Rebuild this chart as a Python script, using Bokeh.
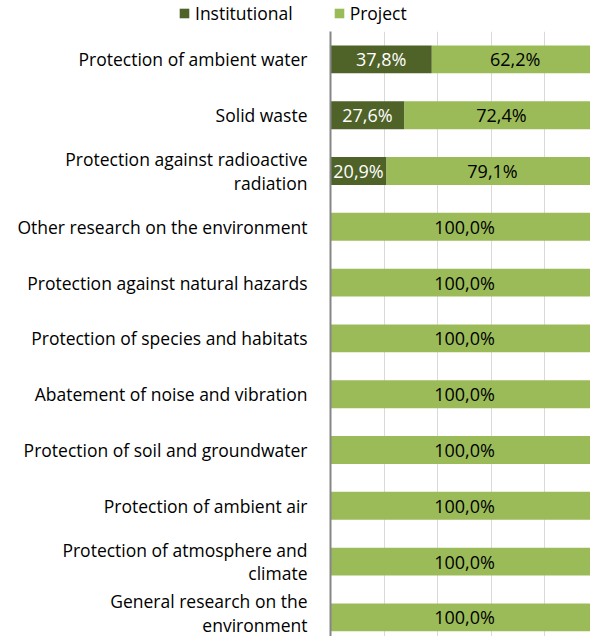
from bokeh.plotting import figure
from bokeh.layouts import column
from bokeh.models import ColumnDataSource, Range1d, FixedTicker, Legend, LegendItem, LabelSet
from bokeh.core.properties import value
from bokeh.embed import file_html
from bokeh.resources import INLINE

categories = [
    "Protection of ambient water",
    "Solid waste",
    "Protection against radioactive\nradiation",
    "Other research on the environment",
    "Protection against natural hazards",
    "Protection of species and habitats",
    "Abatement of noise and vibration",
    "Protection of soil and groundwater",
    "Protection of ambient air",
    "Protection of atmosphere and\nclimate",
    "General research on the\nenvironment",
]
institutional = [37.8, 27.6, 20.9, 0, 0, 0, 0, 0, 0, 0, 0]
project = [62.2, 72.4, 79.1, 100.0, 100.0, 100.0, 100.0, 100.0, 100.0, 100.0, 100.0]
x_ticks = [0, 20, 40, 60, 80, 100]
series_names = ["Institutional", "Project"]

FONT = "Open Sans"
FS = "17.5px"
DARK = "#4f6228"
LIGHT = "#9bbb59"

def fmt(v):
    return ("%.1f%%" % v).replace(".", ",")

n = len(categories)
ypos = [n - 1 - i for i in range(n)]

src = ColumnDataSource(dict(
    y=ypos,
    zero=[0] * n,
    inst_end=institutional,
    proj_start=institutional,
    proj_end=[a + b for a, b in zip(institutional, project)],
))

W = 590
LEG_H = 31
MAIN_H = 605
FRAME_LEFT = 330
BAND_PX = 55.8

p = figure(
    width=W, height=MAIN_H,
    y_range=Range1d(n - 0.5 - MAIN_H / BAND_PX, n - 0.5),
    x_range=Range1d(0, 100 * (W - FRAME_LEFT) / 268.0),
    output_backend="svg", toolbar_location=None,
    min_border_left=FRAME_LEFT, min_border_right=0, min_border_top=0, min_border_bottom=0,
)
p.outline_line_color = None

p.hbar(y="y", left="zero", right="inst_end", height=0.5, source=src,
       fill_color=DARK, line_color=None)
p.hbar(y="y", left="proj_start", right="proj_end", height=0.5, source=src,
       fill_color=LIGHT, line_color=None)

lsrc = ColumnDataSource(dict(
    y=ypos,
    inst_mid=[v / 2 for v in institutional],
    proj_mid=[a + b / 2 for a, b in zip(institutional, project)],
    inst_lbl=[fmt(v) if v > 0 else "" for v in institutional],
    proj_lbl=[fmt(v) if v > 0 else "" for v in project],
))
p.add_layout(LabelSet(x="inst_mid", y="y", text="inst_lbl", source=lsrc,
                      text_align="center", text_baseline="middle",
                      text_font=value(FONT), text_font_size="18px", text_color="white"))
p.add_layout(LabelSet(x="proj_mid", y="y", text="proj_lbl", source=lsrc,
                      text_align="center", text_baseline="middle",
                      text_font=value(FONT), text_font_size="18px", text_color="black"))

p.xaxis.visible = False
p.xgrid.ticker = FixedTicker(ticks=x_ticks)
p.xgrid.grid_line_color = "#d9d9d9"
p.xgrid.grid_line_width = 1
p.ygrid.grid_line_color = None

p.yaxis.ticker = FixedTicker(ticks=ypos)
p.yaxis.major_label_overrides = {y: c for y, c in zip(ypos, categories)}
p.yaxis.axis_line_color = "#868686"
p.yaxis.axis_line_width = 2
p.yaxis.major_tick_line_color = None
p.yaxis.minor_tick_line_color = None
p.yaxis.major_label_text_font = FONT
p.yaxis.major_label_text_font_size = FS
p.yaxis.major_label_text_color = "black"
p.yaxis.major_label_standoff = 17
p.yaxis.major_label_text_line_height = 0.97

# legend strip (its own small figure so the legend can sit left of the plot frame)
lg = figure(width=W, height=LEG_H, x_range=Range1d(0, W), y_range=Range1d(0, LEG_H),
            output_backend="svg", toolbar_location=None,
            min_border_left=0, min_border_right=0, min_border_top=0, min_border_bottom=0)
lg.outline_line_color = None
lg.axis.visible = False
lg.grid.visible = False
for fig in (lg, p):
    try:
        fig.frame_align = False
    except Exception:
        pass
# proxy renderers for the legend swatches (placed outside the visible range)
d1 = lg.hbar(y=[-100], left=[0], right=[1], height=1, fill_color=DARK, line_color=None)
d2 = lg.hbar(y=[-100], left=[0], right=[1], height=1, fill_color=LIGHT, line_color=None)
legend = Legend(
    items=[LegendItem(label=series_names[0], renderers=[d1]),
           LegendItem(label=series_names[1], renderers=[d2])],
    orientation="horizontal",
    location=(178, 6),
    glyph_width=12, glyph_height=12,
    label_text_font=FONT, label_text_font_size="17.5px", label_text_color="black",
    label_standoff=5, spacing=40,
    padding=0, margin=0,
    border_line_color=None, background_fill_alpha=0,
)
lg.add_layout(legend, "center")

layout = column(lg, p, spacing=0)
open("out.html", "w").write(file_html(layout, INLINE))
